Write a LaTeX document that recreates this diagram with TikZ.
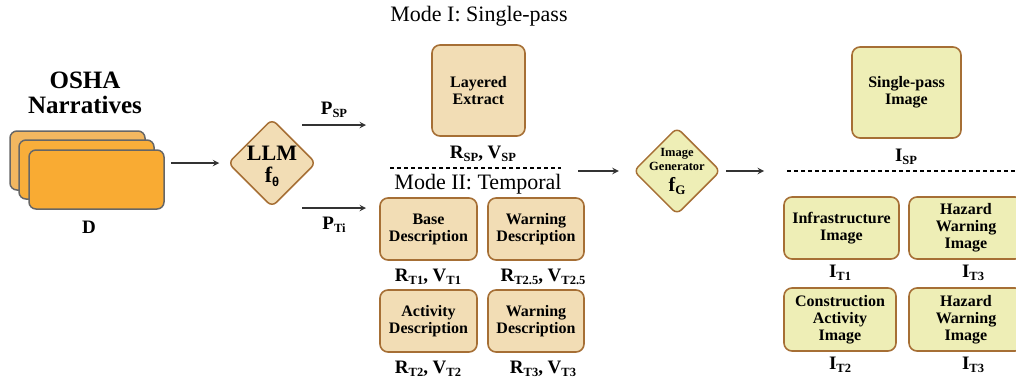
\documentclass[tikz,border=0pt]{standalone}
\usepackage{fontspec}
\setmainfont{Liberation Serif}
\newfontfamily\thetafont{Liberation Sans}
\usetikzlibrary{shapes.geometric, arrows, calc}

\definecolor{tanfill}{HTML}{F2DDB5}
\definecolor{yellowfill}{HTML}{EEEEB6}
\definecolor{boxbrown}{HTML}{A66F35}
\definecolor{docgray}{HTML}{666666}
\definecolor{docback}{HTML}{F2B760}
\definecolor{docmid}{HTML}{F8AE3A}
\definecolor{docfront}{HTML}{F9AB33}

\newcommand{\boxfont}{\fontsize{16}{17}\selectfont\bfseries}
\newcommand{\labfont}{\fontsize{19}{20}\selectfont\bfseries}
\newcommand{\sublab}[2]{#1\raisebox{-0.35ex}{\fontsize{12.5}{12.5}\selectfont #2}}

\tikzstyle{arrow} = [line width=1.8pt,->,>=stealth,draw=black!80]
\tikzstyle{textbox} = [rectangle, rounded corners=8pt, draw=boxbrown, line width=1.6pt, fill=tanfill, align=center, font=\boxfont, inner sep=2pt]
\tikzstyle{imgbox} = [textbox, fill=yellowfill]
\tikzstyle{doc} = [rectangle, rounded corners=7pt, draw=docgray, line width=1.5pt, minimum width=135pt, minimum height=59pt]
\tikzstyle{decide} = [diamond, rounded corners=6pt, draw=boxbrown, line width=1.5pt, minimum width=88pt, minimum height=88pt, inner sep=0pt]
\tikzstyle{lab} = [font=\labfont, inner sep=0pt]
\tikzstyle{sep} = [line width=1.3pt, dash pattern=on 4pt off 3pt]

\begin{document}
\begin{tikzpicture}[x=1pt, y=-1pt]
        \clip (0,0) rectangle (1016,378);

        % input narratives
        \node at (85,93) [font=\fontsize{25}{25}\selectfont\bfseries, align=center](title) {OSHA\\Narratives};
        \node at (77.5,160.5) [doc, fill=docback](doc3) {};
        \node at (86.5,169.5) [doc, fill=docmid](doc2) {};
        \node at (96.5,179.5) [doc, fill=docfront](doc1) {};
        \node at (89,227) [lab](d) {D};

        % llm
        \node at (272,163) [decide, fill=tanfill](llm) {};
        \node at (272,153) [font=\fontsize{22}{22}\selectfont\bfseries, inner sep=0pt](llmtxt) {LLM};
        \node at (272,177) [font=\fontsize{22}{22}\selectfont\bfseries, inner sep=0pt](ftheta) {f\raisebox{-0.35ex}{\fontsize{13}{13}\thetafont\bfseries θ}};
        \draw[arrow, shorten <=6pt, shorten >=8pt] (doc1.east |- llm.west) -- (llm.west);

        \coordinate (spA) at (302,125);
        \coordinate (spB) at (366,125);
        \coordinate (tiA) at (302,208);
        \coordinate (tiB) at (366,208);
        \draw[arrow] (spA) -- node[lab, above=6pt]{\sublab{P}{SP}} (spB);
        \draw[arrow] (tiA) -- node[lab, below=8pt]{\sublab{P}{Ti}} (tiB);

        % mode I
        \node at (479,16) [font=\fontsize{22}{22}\selectfont, inner sep=0pt](mode1) {Mode I: Single-pass};
        \node at (478.5,90.5) [textbox, minimum width=93pt, minimum height=91pt](layer) {Layered\\Extract};
        \node at (483,154) [lab](rsp) {\sublab{R}{SP}, \sublab{V}{SP}};
        \coordinate (sepA) at (390,168);
        \coordinate (sepB) at (561,168);
        \draw[sep] (sepA) -- (sepB);

        % mode II
        \node at (478,184) [font=\fontsize{22}{22}\selectfont, inner sep=0pt](mode2) {Mode II: Temporal};
        \node at (428.5,229) [textbox, minimum width=97pt, minimum height=62pt](base) {Base\\Description};
        \node at (536,229) [textbox, minimum width=96pt, minimum height=62pt](warn1) {Warning\\Description};
        \node at (428.5,321) [textbox, minimum width=97pt, minimum height=62pt](act) {Activity\\Description};
        \node at (536,321) [textbox, minimum width=96pt, minimum height=62pt](warn2) {Warning\\Description};
        \node at (428,277) [lab](rt1) {\sublab{R}{T1}, \sublab{V}{T1}};
        \node at (543,277) [lab](rt25) {\sublab{R}{T2.5}, \sublab{V}{T2.5}};
        \node at (428,369) [lab](rt2) {\sublab{R}{T2}, \sublab{V}{T2}};
        \node at (543,369) [lab](rt3) {\sublab{R}{T3}, \sublab{V}{T3}};

        % image generator
        \node at (677,171) [decide, fill=yellowfill, minimum width=87pt, minimum height=87pt](gen) {};
        \node at (677,159.5) [align=center, inner sep=0pt, font=\fontsize{12.5}{13.5}\selectfont\bfseries](gentxt) {Image\\Generator};
        \node at (677,186) [inner sep=0pt, font=\fontsize{20}{20}\selectfont\bfseries](fg) {f\raisebox{-0.35ex}{\fontsize{13}{13}\selectfont G}};
        \coordinate (modeout) at (578,171);
        \coordinate (imgin) at (764,171);
        \draw[arrow, shorten >=14pt] (modeout) -- (gen.west);
        \draw[arrow, shorten <=5pt] (gen.east) -- (imgin);

        % images
        \node at (906.5,92.5) [imgbox, minimum width=109pt, minimum height=91pt](spimg) {Single-pass\\Image};
        \node at (906,157) [lab](isp) {\sublab{I}{SP}};
        \coordinate (sepC) at (787,171);
        \coordinate (sepD) at (1016,171);
        \draw[sep] (sepC) -- (sepD);
        \node at (841.5,228) [imgbox, minimum width=115pt, minimum height=62pt](infra) {Infrastructure\\Image};
        \node at (966,228) [imgbox, minimum width=114pt, minimum height=62pt](haz1) {Hazard\\Warning\\Image};
        \node at (840,319.5) [imgbox, minimum width=112pt, minimum height=63pt](cons) {Construction\\Activity\\Image};
        \node at (966,319.5) [imgbox, minimum width=114pt, minimum height=63pt](haz2) {Hazard\\Warning\\Image};
        \node at (840,273) [lab](it1) {\sublab{I}{T1}};
        \node at (973,273) [lab](it3a) {\sublab{I}{T3}};
        \node at (840,365) [lab](it2) {\sublab{I}{T2}};
        \node at (973,365) [lab](it3b) {\sublab{I}{T3}};

    \end{tikzpicture}
\end{document}
